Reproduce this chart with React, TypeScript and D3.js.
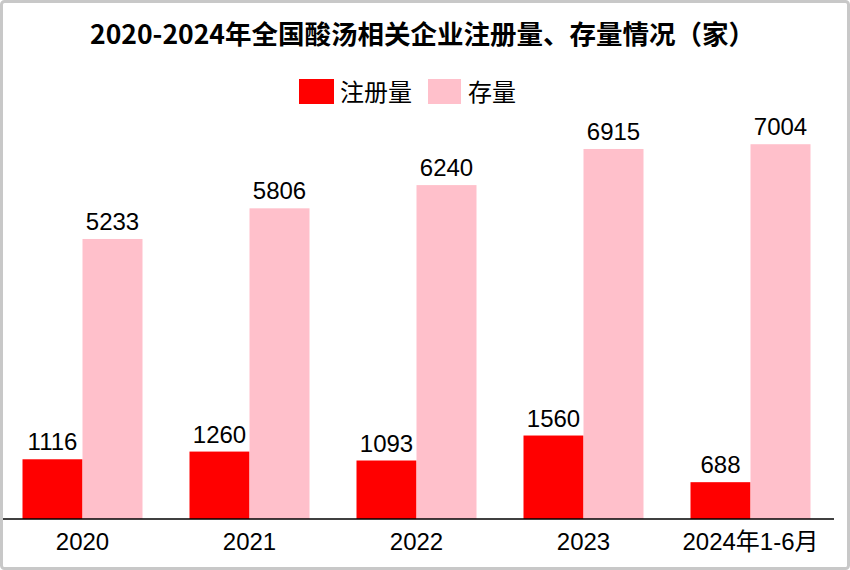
import React from "react";
import * as d3 from "d3";

const categories = ["2020", "2021", "2022", "2023", "2024年1-6月"];
const registered = [1116, 1260, 1093, 1560, 688];
const stock = [5233, 5806, 6240, 6915, 7004];
const seriesNames = ["注册量", "存量"];
const seriesColors = ["#FF0000", "#FFC0CB"];
const title = "2020-2024年全国酸汤相关企业注册量、存量情况（家）";

const W = 850;
const H = 570;
const baseY = 519;

export default function App() {
  const x = d3.scaleBand<string>().domain(categories).range([-1, 834]).padding(0);
  const y = d3.scaleLinear().domain([0, 8000]).range([baseY, baseY - 8000 * 0.05351]);
  const barW = 60;
  const offset = (x.bandwidth() - 2 * barW) / 2;
  const series = [registered, stock];
  const font = "'Liberation Sans', Arial, 'Noto Sans CJK SC', sans-serif";
  return (
    <div style={{ position: "fixed", left: 0, top: 0 }}>
      <svg width={W} height={H} style={{ display: "block" }}>
        <rect x={0} y={0} width={W} height={H} fill="#fff" />
        <rect x={1.5} y={1.5} width={W - 3} height={H - 3} rx={3} fill="#fff" stroke="#c8c8c8" strokeWidth={3} />
        <text x={422.5} y={44} textAnchor="middle" fontFamily="'Noto Sans CJK SC', sans-serif" fontWeight="bold" fontSize={26.5} fill="#000">
          {title}
        </text>
        {/* legend */}
        <g fontFamily="'Noto Sans CJK SC', sans-serif" fontSize={24} fill="#000">
          <rect x={299} y={79} width={35} height={25} fill={seriesColors[0]} />
          <text x={340} y={101}>{seriesNames[0]}</text>
          <rect x={428} y={79} width={33} height={25} fill={seriesColors[1]} />
          <text x={468} y={101}>{seriesNames[1]}</text>
        </g>
        {categories.map((c, i) => (
          <g key={c}>
            {series.map((s, k) => {
              const bx = (x(c) as number) + offset + k * barW;
              const v = s[i];
              return (
                <g key={k}>
                  <rect x={bx} y={y(v)} width={barW} height={baseY - y(v)} fill={seriesColors[k]} />
                  <text x={bx + barW / 2} y={y(v) - 9} textAnchor="middle" fontFamily={font} fontSize={24} fill="#000">
                    {v}
                  </text>
                </g>
              );
            })}
            <text x={(x(c) as number) + x.bandwidth() / 2} y={550} textAnchor="middle" fontFamily={font} fontSize={24} fill="#000">
              {c}
            </text>
          </g>
        ))}
        <line x1={3} x2={834} y1={baseY} y2={baseY} stroke="#000" strokeWidth={1.5} />
      </svg>
    </div>
  );
}
